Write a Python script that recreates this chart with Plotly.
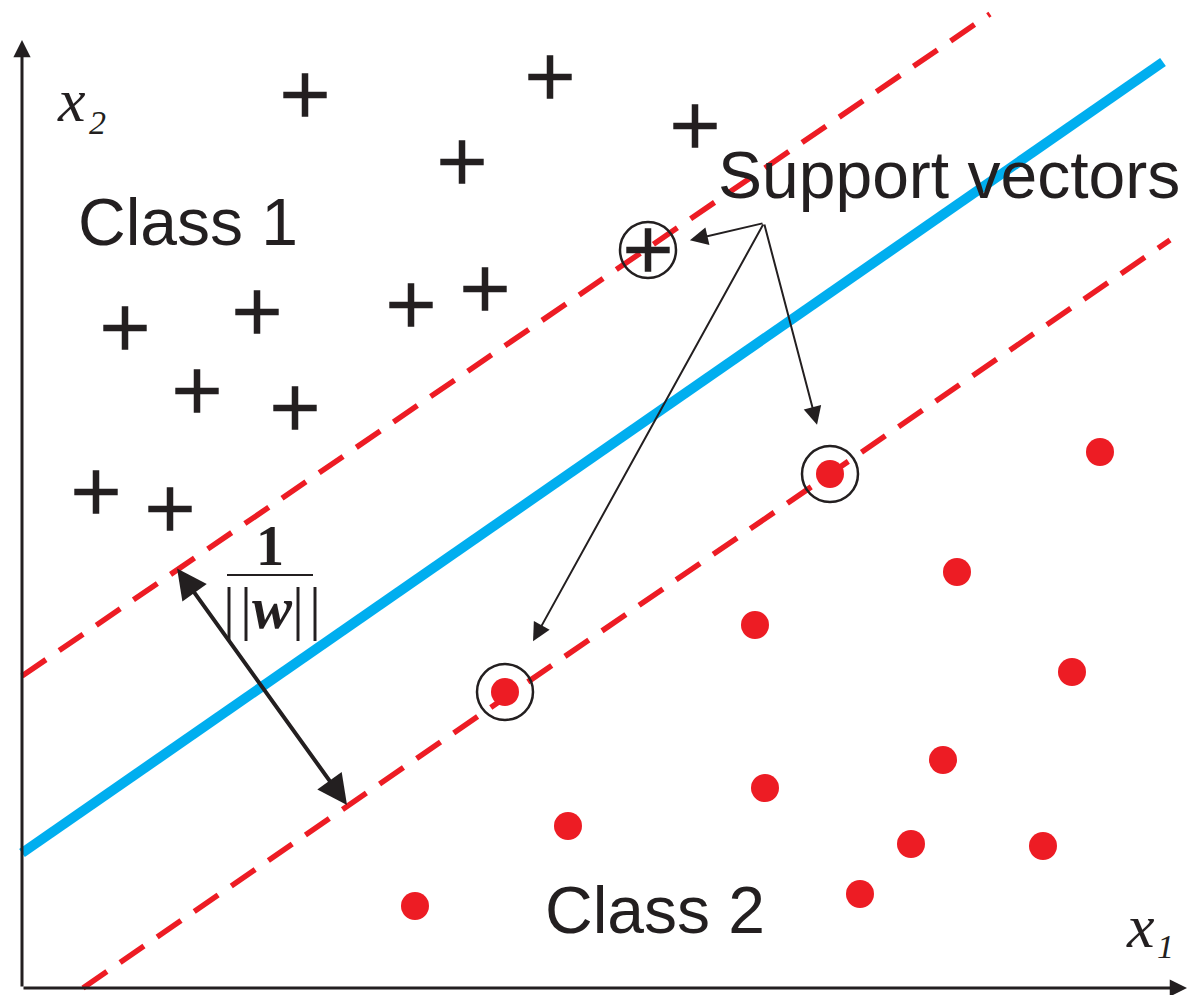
import plotly.graph_objects as go

# Class 1 samples (plus signs) and Class 2 samples (red dots), in canvas units
class1_x = [305, 550, 695, 462, 485, 411, 257, 125, 197, 295, 96, 170]
class1_y = [95, 77, 126, 162, 289, 305, 312, 328, 391, 408, 492, 509]
class2_x = [1100, 957, 755, 1072, 943, 765, 568, 911, 1043, 860, 415]
class2_y = [452, 572, 625, 672, 760, 788, 826, 844, 846, 894, 906]

# Support vectors: one from Class 1, two from Class 2
sv1_x = [648]
sv1_y = [250]
sv2_x = [505, 830]
sv2_y = [692, 474]

# Separating hyperplane and the two margin boundaries (end points)
hyper_x = [22, 1163]
hyper_y = [853, 62]
margin_up_x = [22, 990]
margin_up_y = [676, 14]
margin_lo_x = [83, 1170]
margin_lo_y = [988, 240]

# Margin-width arrow end points
margin_arrow_x = [176, 347]
margin_arrow_y = [567, 805]

# Callout origin for the "Support vectors" arrows and how far each head stops short
callout_origin = (764, 223)
callout_standoff = [43, 58, 51]

# Coordinate axes
origin = (22, 988)
x_axis_end = 1187
y_axis_end = 40

INK = "#231F20"
RED = "#ED1C24"
BLUE = "#00AEEF"
W, H = 1189, 995

fig = go.Figure()

fig.add_trace(go.Scatter(x=hyper_x, y=hyper_y, mode="lines",
                         line=dict(color=BLUE, width=10)))
for lx, ly in [(margin_up_x, margin_up_y), (margin_lo_x, margin_lo_y)]:
    fig.add_trace(go.Scatter(x=lx, y=ly, mode="lines",
                             line=dict(color=RED, width=5.5, dash="29px,16px")))

fig.add_trace(go.Scatter(x=class1_x + sv1_x, y=class1_y + sv1_y, mode="markers",
                         marker=dict(symbol="cross-thin", size=31,
                                     line=dict(color=INK, width=6.5))))
fig.add_trace(go.Scatter(x=class2_x + sv2_x, y=class2_y + sv2_y, mode="markers",
                         marker=dict(symbol="circle", size=28, color=RED,
                                     line=dict(width=0))))
fig.add_trace(go.Scatter(x=sv1_x + sv2_x, y=sv1_y + sv2_y, mode="markers",
                         marker=dict(symbol="circle-open", size=56, color=INK,
                                     line=dict(color=INK, width=2.5))))

annotations = []

# Axes with arrow heads
annotations.append(dict(x=x_axis_end, y=origin[1], ax=origin[0], ay=origin[1],
                        xref="x", yref="y", axref="x", ayref="y", text="",
                        showarrow=True, arrowhead=2, arrowsize=1.15,
                        arrowwidth=3, arrowcolor=INK))
annotations.append(dict(x=origin[0], y=y_axis_end, ax=origin[0], ay=origin[1],
                        xref="x", yref="y", axref="x", ayref="y", text="",
                        showarrow=True, arrowhead=2, arrowsize=1.15,
                        arrowwidth=3, arrowcolor=INK))

# Support vector callout arrows
for (sx, sy), so in zip(list(zip(sv1_x + sv2_x, sv1_y + sv2_y)), callout_standoff):
    annotations.append(dict(x=sx, y=sy, ax=callout_origin[0], ay=callout_origin[1],
                            xref="x", yref="y", axref="x", ayref="y", text="",
                            showarrow=True, arrowhead=2, arrowsize=1.8,
                            arrowwidth=2, arrowcolor=INK, standoff=so))

# Double-headed margin arrow
annotations.append(dict(x=margin_arrow_x[1], y=margin_arrow_y[1],
                        ax=margin_arrow_x[0], ay=margin_arrow_y[0],
                        xref="x", yref="y", axref="x", ayref="y", text="",
                        showarrow=True, arrowhead=2, startarrowhead=2,
                        arrowside="end+start", arrowsize=1.5, startarrowsize=1.5,
                        arrowwidth=4, arrowcolor=INK))

sans = dict(family="Liberation Sans, Arial, sans-serif", size=66, color=INK)
serif_it = "Liberation Serif, Times New Roman, serif"

labels = [
    ("Class 1", 188, 222, sans),
    ("Class 2", 655, 910, sans),
    ("Support vectors", 949, 175, sans),
    ("<i>x</i>", 71, 100, dict(family=serif_it, size=62, color=INK)),
    ("<i>2</i>", 97, 122, dict(family=serif_it, size=34, color=INK)),
    ("<i>x</i>", 1140, 926, dict(family=serif_it, size=62, color=INK)),
    ("<i>1</i>", 1165, 946, dict(family=serif_it, size=34, color=INK)),
    ("<b>1</b>", 270, 546, dict(family=serif_it, size=56, color=INK)),
    ("|\u200a|<b><i>w</i></b>|\u200a|", 272, 608, dict(family=serif_it, size=60, color=INK)),
]
for txt, tx, ty, fnt in labels:
    annotations.append(dict(x=tx, y=ty, xref="x", yref="y", text=txt,
                            showarrow=False, font=fnt,
                            xanchor="center", yanchor="middle"))

fig.update_layout(
    width=W, height=H,
    margin=dict(l=0, r=0, t=0, b=0),
    paper_bgcolor="white", plot_bgcolor="white",
    showlegend=False,
    xaxis=dict(range=[0, W], visible=False, fixedrange=True),
    yaxis=dict(range=[H, 0], visible=False, fixedrange=True),
    annotations=annotations,
    shapes=[dict(type="line", xref="x", yref="y", x0=227, x1=313, y0=575, y1=575,
                 line=dict(color=INK, width=2))],
)

fig.write_html("out.html", config=dict(displayModeBar=False))
